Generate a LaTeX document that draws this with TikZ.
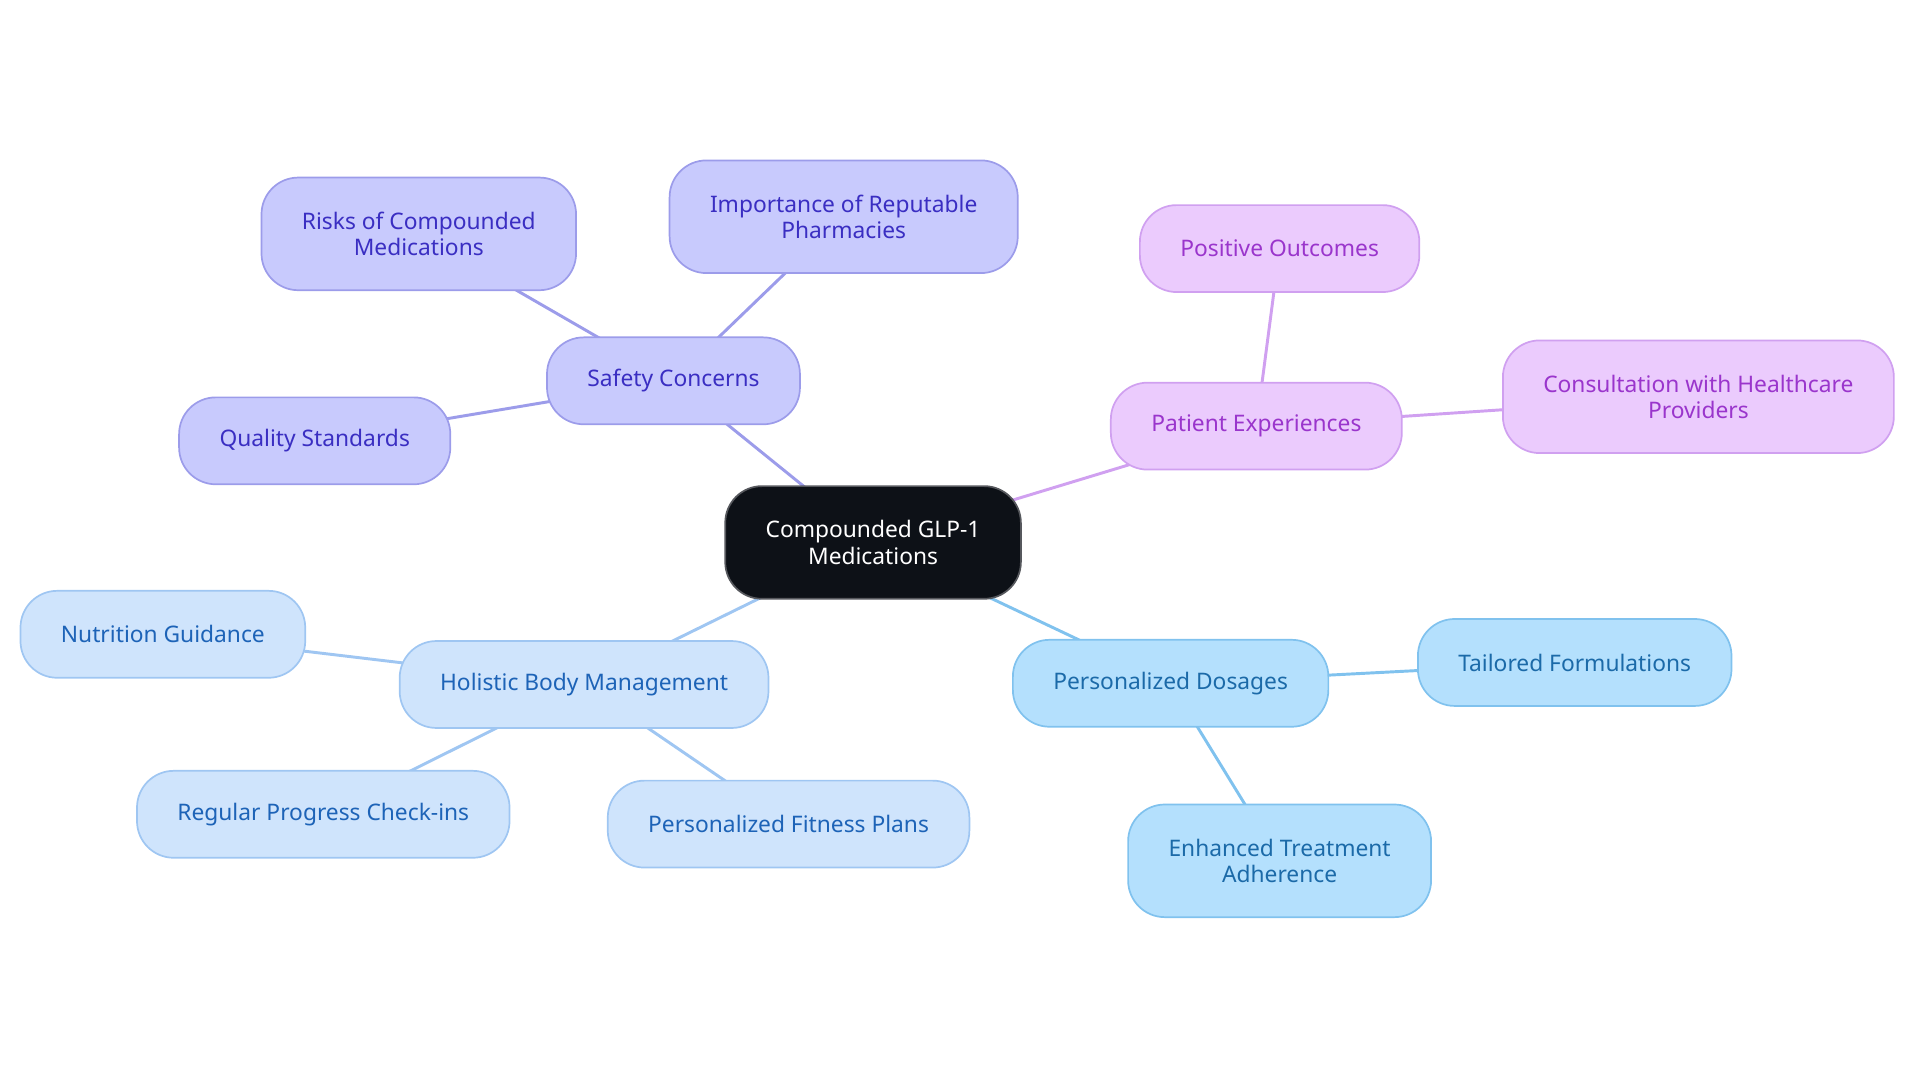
\documentclass[tikz,border=0pt]{standalone}
\usepackage{fontspec}
\setmainfont{Noto Sans}
\usepackage{tikz}
\usetikzlibrary{positioning}
\usetikzlibrary{backgrounds}

\definecolor{safetyfill}{HTML}{C8CAFD}
\definecolor{safetydraw}{HTML}{9C9CEA}
\definecolor{safetytext}{HTML}{3A2EC2}
\definecolor{patientfill}{HTML}{EBCBFD}
\definecolor{patientdraw}{HTML}{D0A0F0}
\definecolor{patienttext}{HTML}{9A35CC}
\definecolor{holisticfill}{HTML}{CFE4FC}
\definecolor{holisticdraw}{HTML}{9FC6F2}
\definecolor{holistictext}{HTML}{1D63B7}
\definecolor{dosagefill}{HTML}{B4E0FD}
\definecolor{dosagedraw}{HTML}{80C2EE}
\definecolor{dosagetext}{HTML}{1B6AA8}
\definecolor{rootfill}{HTML}{0D1117}

\tikzset{
  mapnode/.style={rectangle, rounded corners=15pt, line width=0.7pt, align=center,
    inner xsep=16.5pt, inner ysep=0pt, minimum height=35.5pt,
    font=\fontsize{9.3}{10.8}\selectfont},
  twoline/.style={minimum height=46pt},
  rootnode/.style={mapnode, fill=rootfill, draw=rootfill!70!white, text=white},
  safetynode/.style={mapnode, fill=safetyfill, draw=safetydraw, text=safetytext},
  patientnode/.style={mapnode, fill=patientfill, draw=patientdraw, text=patienttext},
  holisticnode/.style={mapnode, fill=holisticfill, draw=holisticdraw, text=holistictext},
  dosagenode/.style={mapnode, fill=dosagefill, draw=dosagedraw, text=dosagetext},
  safetyline/.style={draw=safetydraw, line width=1.2pt},
  patientline/.style={draw=patientdraw, line width=1.2pt},
  holisticline/.style={draw=holisticdraw, line width=1.2pt},
  dosageline/.style={draw=dosagedraw, line width=1.2pt}
}

\begin{document}
\begin{tikzpicture}[x=0.5pt, y=-0.5pt]

    \useasboundingbox (0,0) rectangle (1568,884.4);

    % Nodes
    \node at (713,443) (root) [rootnode, twoline] {Compounded GLP-1\\Medications};

    \node at (550,311) (safety) [safetynode] {Safety Concerns};
    \node at (342,191) (risks) [safetynode, twoline] {Risks of Compounded\\Medications};
    \node at (689,177) (reputable) [safetynode, twoline] {Importance of Reputable\\Pharmacies};
    \node at (257,360) (quality) [safetynode] {Quality Standards};

    \node at (1026,348) (patient) [patientnode] {Patient Experiences};
    \node at (1045,203) (outcomes) [patientnode] {Positive Outcomes};
    \node at (1387,324) (consult) [patientnode, twoline] {Consultation with Healthcare\\Providers};

    \node at (477,559) (holistic) [holisticnode] {Holistic Body Management};
    \node at (133,518) (nutrition) [holisticnode] {Nutrition Guidance};
    \node at (264,665) (checkins) [holisticnode] {Regular Progress Check-ins};
    \node at (644,673) (fitness) [holisticnode] {Personalized Fitness Plans};

    \node at (956,558) (dosage) [dosagenode] {Personalized Dosages};
    \node at (1286,541) (tailored) [dosagenode] {Tailored Formulations};
    \node at (1045,703) (adherence) [dosagenode, twoline] {Enhanced Treatment\\Adherence};

    % Connectors
    \begin{scope}[on background layer]
        \draw[safetyline] (root.center) -- (safety.center);
        \draw[safetyline] (safety.center) -- (risks.center);
        \draw[safetyline] (safety.center) -- (reputable.center);
        \draw[safetyline] (safety.center) -- (quality.center);

        \draw[patientline] (root.center) -- (patient.center);
        \draw[patientline] (patient.center) -- (outcomes.center);
        \draw[patientline] (patient.center) -- (consult.center);

        \draw[holisticline] (root.center) -- (holistic.center);
        \draw[holisticline] (holistic.center) -- (nutrition.center);
        \draw[holisticline] (holistic.center) -- (checkins.center);
        \draw[holisticline] (holistic.center) -- (fitness.center);

        \draw[dosageline] (root.center) -- (dosage.center);
        \draw[dosageline] (dosage.center) -- (tailored.center);
        \draw[dosageline] (dosage.center) -- (adherence.center);
    \end{scope}

\end{tikzpicture}
\end{document}
